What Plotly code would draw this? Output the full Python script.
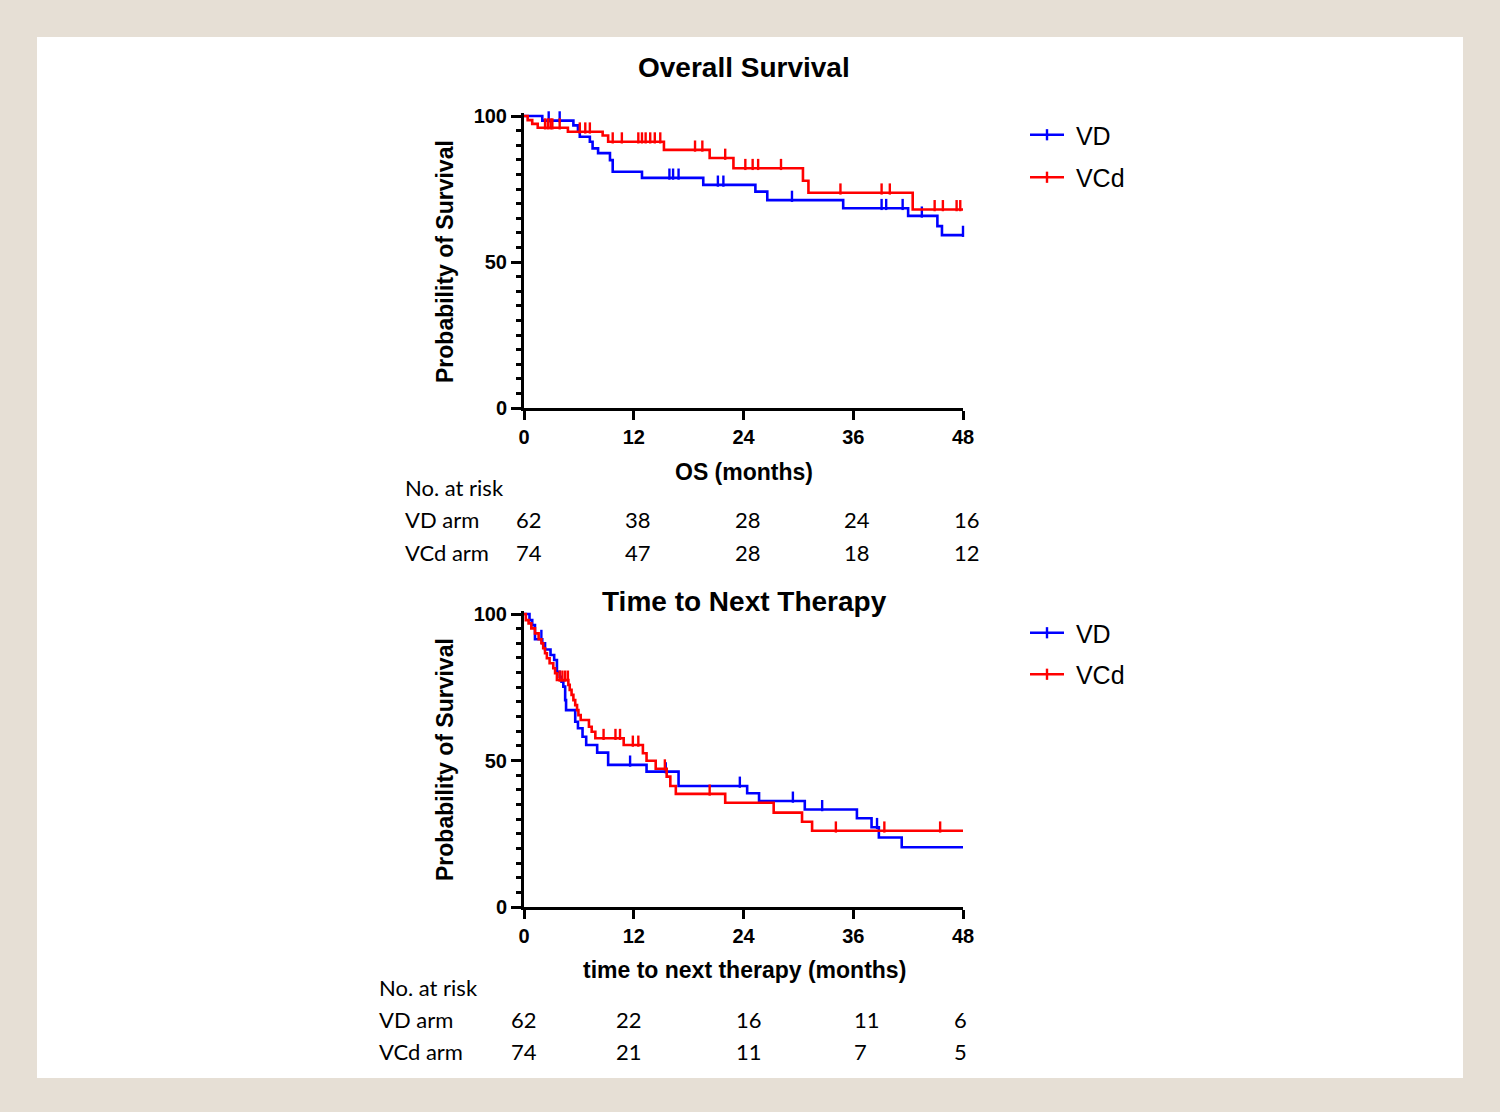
import plotly.graph_objects as go

W, H = 1500, 1112

# ---------------- data ----------------
month_ticks = [0, 12, 24, 36, 48]

# Overall survival, VD arm: event times (months) and survival (%) after each event
os_vd_time = [0, 2.0, 5.4, 5.9, 6.1, 7.2, 7.5, 8.1, 9.4, 9.7, 12.9, 19.6, 25.3, 26.6, 34.9, 42.0, 45.2, 45.7]
os_vd_surv = [100, 98.4, 96.8, 94.6, 92.9, 91.2, 88.9, 87.3, 84.9, 80.9, 78.8, 76.4, 74.1, 71.2, 68.4, 65.8, 62.3, 59.2]
os_vd_censored = [1.3, 1.6, 2.7, 3.9, 15.9, 16.3, 16.9, 21.2, 21.8, 29.3, 39.1, 39.6, 41.4, 43.5, 48.0]

# Overall survival, VCd arm
os_vcd_time = [0, 0.4, 0.9, 1.5, 4.8, 8.6, 9.2, 15.3, 20.3, 22.9, 30.5, 31.1, 42.5]
os_vcd_surv = [100, 98.6, 97.3, 96.0, 94.6, 93.3, 91.2, 88.4, 85.6, 82.1, 77.8, 73.7, 68.0]
os_vcd_censored = [2.3, 2.6, 2.9, 3.1, 3.9, 6.1, 6.7, 7.2, 9.7, 10.7, 12.5, 12.9, 13.3, 13.8, 14.3,
                   14.9, 18.7, 19.5, 22.0, 24.2, 25.0, 25.6, 28.1, 34.6, 39.1, 40.0, 44.9, 45.8, 47.3, 47.7]

# Time to next therapy, VD arm
ttnt_vd_time = [0, 0.6, 0.9, 1.2, 2.0, 2.3, 2.9, 3.3, 3.6, 3.9, 4.1, 4.3, 4.5, 4.6, 5.6, 5.9, 6.4,
                6.8, 8.0, 9.2, 13.4, 16.9, 24.4, 25.7, 30.7, 36.4, 38.0, 38.8, 41.3]
ttnt_vd_surv = [100, 97.9, 96.2, 91.4, 90.0, 87.9, 86.0, 84.3, 80.3, 78.6, 76.9, 75.2, 70.6, 67.2, 63.2,
                61.0, 58.1, 55.3, 52.7, 48.5, 46.2, 41.3, 38.8, 36.2, 33.3, 30.3, 27.2, 23.7, 20.4]
ttnt_vd_censored = [0.55, 1.9, 11.6, 15.5, 23.6, 29.4, 32.6, 38.6]

# Time to next therapy, VCd arm
ttnt_vcd_time = [0, 0.2, 0.5, 0.8, 1.2, 1.6, 1.9, 2.1, 2.3, 2.5, 2.8, 3.2, 3.4, 3.6, 4.85, 5.0, 5.2,
                 5.4, 5.6, 5.8, 5.95, 6.2, 7.1, 7.4, 7.8, 10.9, 13.0, 13.4, 14.4, 15.6, 16.0, 16.6,
                 22.0, 27.3, 30.4, 31.5]
ttnt_vcd_surv = [100, 97.9, 96.8, 95.1, 93.4, 91.4, 90.0, 88.3, 86.6, 84.9, 83.2, 81.5, 79.8, 77.5,
                 75.8, 74.1, 72.4, 70.6, 68.9, 67.2, 65.5, 63.8, 61.5, 59.8, 57.6, 55.3, 52.5, 49.9,
                 47.2, 44.5, 41.3, 38.6, 35.6, 32.2, 29.1, 26.0]
ttnt_vcd_censored = [0.1, 3.9, 4.2, 4.5, 4.8, 8.7, 10.0, 10.5, 11.9, 12.5, 15.4, 20.3, 34.1, 39.4, 45.5]

arm_names = ["VD", "VCd"]
risk_row_labels = ["VD arm", "VCd arm"]
os_risk_vd = [62, 38, 28, 24, 16]
os_risk_vcd = [74, 47, 28, 18, 12]
ttnt_risk_vd = [62, 22, 16, 11, 6]
ttnt_risk_vcd = [74, 21, 11, 7, 5]

# ---------------- styling ----------------
BLUE = "#0000FF"
RED = "#FF0000"
BEIGE = "#E6DFD5"
ARIAL = "Liberation Sans, Arial, Helvetica, sans-serif"
CALIBRI = "Lato, Carlito, Calibri, sans-serif"
X_MAX = 48


def step_xy(times, survs):
    return list(times) + [X_MAX], list(survs) + [survs[-1]]


def surv_at(times, survs, t):
    s = survs[0]
    for ti, si in zip(times, survs):
        if ti <= t:
            s = si
    return s


def px_x(x):
    return x / W


def px_y(y):
    return 1 - y / H


fig = go.Figure()

panels = [
    dict(xa="x", ya="y", legend="legend",
         curves=[(os_vd_time, os_vd_surv, os_vd_censored, BLUE, arm_names[0]),
                 (os_vcd_time, os_vcd_surv, os_vcd_censored, RED, arm_names[1])]),
    dict(xa="x2", ya="y2", legend="legend2",
         curves=[(ttnt_vd_time, ttnt_vd_surv, ttnt_vd_censored, BLUE, arm_names[0]),
                 (ttnt_vcd_time, ttnt_vcd_surv, ttnt_vcd_censored, RED, arm_names[1])]),
]

CENSOR_LIFT = 1.3  # tick drawn just above the curve

for p in panels:
    for times, survs, cens, color, name in p["curves"]:
        sx, sy = step_xy(times, survs)
        fig.add_trace(go.Scatter(
            x=sx, y=sy, mode="lines", line=dict(color=color, width=2.6, shape="hv"),
            xaxis=p["xa"], yaxis=p["ya"], showlegend=False, hoverinfo="skip"))
        fig.add_trace(go.Scatter(
            x=cens, y=[surv_at(times, survs, t) + CENSOR_LIFT for t in cens], mode="markers",
            marker=dict(symbol="line-ns", size=8, line=dict(color=color, width=2.4)),
            xaxis=p["xa"], yaxis=p["ya"], showlegend=False, cliponaxis=False, hoverinfo="skip"))
        # legend entry
        fig.add_trace(go.Scatter(
            x=[None], y=[None], mode="lines+markers", name="\u00a0" + name,
            line=dict(color=color, width=2.6),
            marker=dict(symbol="line-ns", size=8, line=dict(color=color, width=2.4)),
            xaxis=p["xa"], yaxis=p["ya"], legend=p["legend"], legendgroup=p["legend"] + name))

# ---------------- axes ----------------
X0_PX, X1_PX = 524, 963
PAD = 1.0  # extra headroom above 100 so the 100% line is not clipped


def y_domain(top_px, bottom_px):
    ppu = (bottom_px - top_px) / 100.0
    return [px_y(bottom_px), px_y(top_px - PAD * ppu)]


x_common = dict(range=[0, X_MAX], tickvals=month_ticks, ticktext=[str(v) for v in month_ticks],
                ticks="outside", ticklen=9, tickwidth=3, tickcolor="black",
                showline=True, linewidth=3, linecolor="black", showgrid=False, zeroline=False,
                tickfont=dict(family=ARIAL, size=20, color="black", weight="bold"),
                automargin=False, fixedrange=True)
y_common = dict(range=[0, 100 + PAD], tickvals=[0, 50, 100], ticks="outside", ticklen=10,
                tickwidth=3, tickcolor="black", showline=True, linewidth=3, linecolor="black",
                showgrid=False, zeroline=False,
                minor=dict(dtick=5, tick0=0, ticks="outside", ticklen=5, tickwidth=3,
                           tickcolor="black", showgrid=False),
                tickfont=dict(family=ARIAL, size=20, color="black", weight="bold"),
                automargin=False, fixedrange=True)

fig.update_layout(
    xaxis=dict(domain=[px_x(X0_PX), px_x(X1_PX)], anchor="y", **x_common),
    yaxis=dict(domain=y_domain(116, 408), anchor="x", **y_common),
    xaxis2=dict(domain=[px_x(X0_PX), px_x(X1_PX)], anchor="y2", **x_common),
    yaxis2=dict(domain=y_domain(614, 907), anchor="x2", **y_common),
)

legend_common = dict(xanchor="left", yanchor="top", bgcolor="rgba(0,0,0,0)",
                     font=dict(family=ARIAL, size=25, color="black"),
                     traceorder="grouped", itemclick=False, itemwidth=34)
fig.update_layout(
    legend=dict(x=px_x(1025), y=px_y(112), tracegroupgap=7, **legend_common),
    legend2=dict(x=px_x(1025), y=px_y(610), tracegroupgap=6, **legend_common),
)

# ---------------- text ----------------
ann = []


def add_text(text, x_px, y_px, size, bold=True, family=ARIAL, angle=0, xanchor="center"):
    ann.append(dict(text=text, x=px_x(x_px), y=px_y(y_px), xref="paper", yref="paper",
                    showarrow=False, xanchor=xanchor, yanchor="middle", textangle=angle,
                    font=dict(family=family, size=size, color="black",
                              weight="bold" if bold else "normal")))


add_text("Overall Survival", 744, 68, 28)
add_text("OS (months)", 744, 472, 23)
add_text("Probability of Survival", 445, 262, 23, angle=-90)
add_text("Time to Next Therapy", 744, 601, 28)
add_text("time to next therapy (months)", 744, 970, 23)
add_text("Probability of Survival", 445, 760, 23, angle=-90)

# numbers at risk tables
tables = [
    dict(label_x=403, rows_y=[488, 519, 552], cols_x=[514, 623, 733, 842, 952],
         values=[os_risk_vd, os_risk_vcd]),
    dict(label_x=377, rows_y=[987, 1019, 1051], cols_x=[509, 614, 734, 852, 952],
         values=[ttnt_risk_vd, ttnt_risk_vcd]),
]
for tb in tables:
    add_text("No. at risk", tb["label_x"], tb["rows_y"][0], 22, bold=False, family=CALIBRI,
             xanchor="left")
    for label, row_y, vals in zip(risk_row_labels, tb["rows_y"][1:], tb["values"]):
        add_text(label, tb["label_x"], row_y, 22, bold=False, family=CALIBRI, xanchor="left")
        for cx, v in zip(tb["cols_x"], vals):
            add_text(str(v), cx, row_y, 22, bold=False, family=CALIBRI, xanchor="left")

fig.update_layout(
    annotations=ann,
    shapes=[dict(type="rect", xref="paper", yref="paper", x0=px_x(37), x1=px_x(1463),
                 y0=px_y(1078), y1=px_y(37), fillcolor="white", line=dict(width=0),
                 layer="below")],
    width=W, height=H, margin=dict(l=0, r=0, t=0, b=0),
    paper_bgcolor=BEIGE, plot_bgcolor="rgba(0,0,0,0)",
    showlegend=True,
)

fig.write_html(
    "out.html", config={"displayModeBar": False},
    post_script="document.body.style.margin='0px';document.body.style.backgroundColor='%s';" % BEIGE,
)
